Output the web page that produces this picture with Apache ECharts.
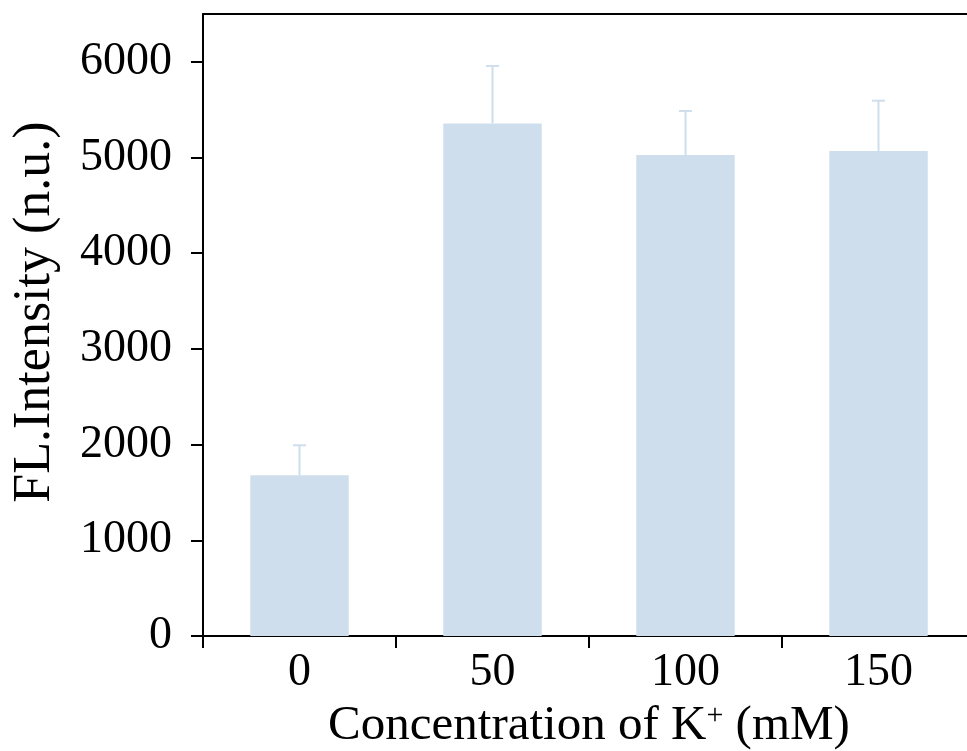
<!DOCTYPE html>
<html>
<head>
<meta charset="utf-8">
<script src="https://cdn.jsdelivr.net/npm/echarts@6/dist/echarts.min.js"></script>
<style>
html,body{margin:0;padding:0;background:#fff;}
#chart{width:967px;height:751px;}
</style>
</head>
<body>
<div id="chart"></div>
<script>
var categories = ['0', '50', '100', '150'];
var intensity = [1680, 5357, 5026, 5068];
var errors = [313, 600, 460, 526];
var yTicks = [0, 1000, 2000, 3000, 4000, 5000, 6000];

var FONT = 'Liberation Serif';
var barColor = '#cfdeed';

var chart = echarts.init(document.getElementById('chart'));
var errData = intensity.map(function (v, i) { return [i, v, v + errors[i]]; });

chart.setOption({
  animation: false,
  backgroundColor: '#fff',
  grid: { left: 203, right: -8, top: 14, bottom: 115, containLabel: false, outerBoundsMode: 'none' },
  xAxis: [{
    type: 'category',
    data: categories,
    position: 'bottom',
    axisLine: { show: true, lineStyle: { color: '#000', width: 2 } },
    axisTick: { show: true, inside: false, length: 12, lineStyle: { color: '#000', width: 2 } },
    axisLabel: { color: '#000', fontFamily: FONT, fontSize: 46, margin: 14 },
    splitLine: { show: false },
    name: 'Concentration of K{sup|+} (mM)',
    nameLocation: 'middle',
    nameGap: 57,
    nameTextStyle: {
      color: '#000', fontFamily: FONT, fontSize: 49, padding: [0, 0, 0, 0],
      rich: { sup: { fontFamily: FONT, fontSize: 30, color: '#000', padding: [0, 0, 21, 0] } }
    }
  }, {
    type: 'category',
    data: categories,
    position: 'top',
    axisLine: { show: true, lineStyle: { color: '#000', width: 2 } },
    axisTick: { show: false },
    axisLabel: { show: false },
    splitLine: { show: false }
  }],
  yAxis: {
    type: 'value',
    min: 0,
    max: 6500,
    interval: 1000,
    axisLine: { show: true, lineStyle: { color: '#000', width: 2 } },
    axisTick: { show: true, inside: false, length: 12, lineStyle: { color: '#000', width: 2 }, customValues: yTicks },
    axisLabel: {
      color: '#000', fontFamily: FONT, fontSize: 46, margin: 31, customValues: yTicks,
      formatter: function (v) { return String(v); }
    },
    splitLine: { show: false },
    name: 'FL.Intensity (n.u.)',
    nameLocation: 'middle',
    nameGap: 142,
    nameTextStyle: { color: '#000', fontFamily: FONT, fontSize: 52, padding: [0, 0, 0, 26] }
  },
  series: [{
    type: 'bar',
    data: intensity,
    barWidth: '51%',
    itemStyle: { color: barColor },
    z: 2
  }, {
    type: 'custom',
    data: errData,
    z: 1,
    renderItem: function (params, api) {
      var x = api.value(0);
      var base = api.coord([x, api.value(1)]);
      var top = api.coord([x, api.value(2)]);
      var half = 6.5;
      var style = { stroke: barColor, lineWidth: 2 };
      return {
        type: 'group',
        children: [
          { type: 'line', shape: { x1: base[0], y1: base[1], x2: top[0], y2: top[1] }, style: style },
          { type: 'line', shape: { x1: top[0] - half, y1: top[1], x2: top[0] + half, y2: top[1] }, style: style }
        ]
      };
    }
  }]
});
</script>
</body>
</html>
